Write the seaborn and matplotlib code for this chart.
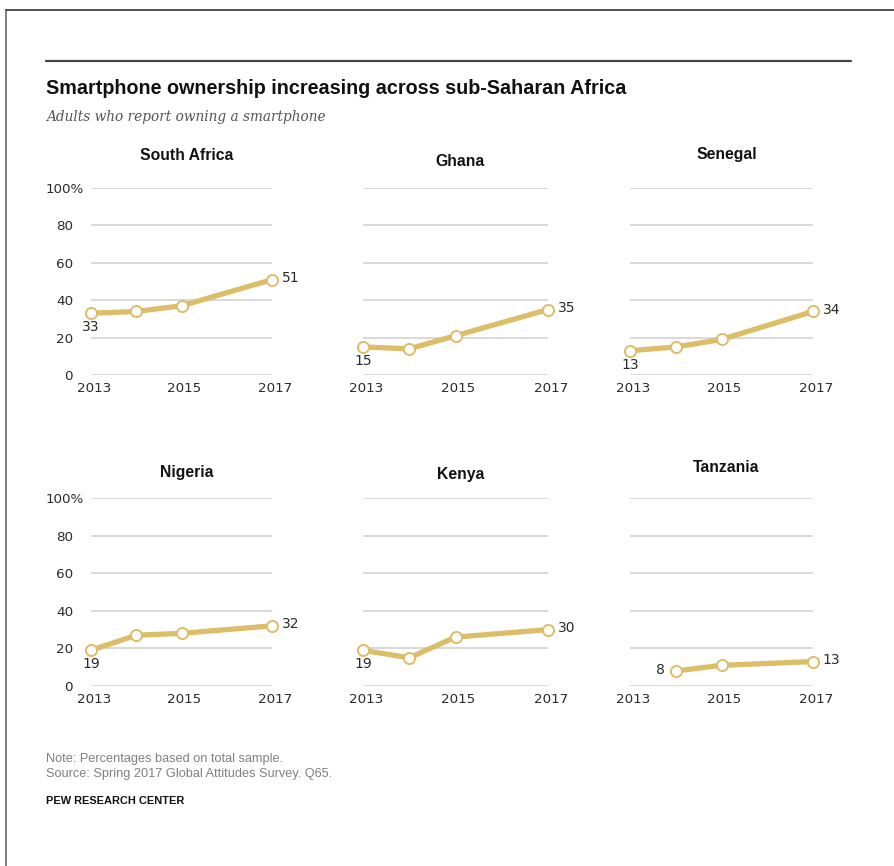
import numpy as np
import pandas as pd
import matplotlib
matplotlib.use("Agg")
import matplotlib.pyplot as plt
import matplotlib.transforms as mtransforms
from matplotlib.lines import Line2D
import seaborn as sns

# ---------------- data ----------------
years = [2013, 2014, 2015, 2017]
countries = ["South Africa", "Ghana", "Senegal", "Nigeria", "Kenya", "Tanzania"]
south_africa = [33, 34, 37, 51]
ghana = [15, 14, 21, 35]
senegal = [13, 15, 19, 34]
nigeria = [19, 27, 28, 32]
kenya = [19, 15, 26, 30]
tanzania = [np.nan, 8, 11, 13]
series = [south_africa, ghana, senegal, nigeria, kenya, tanzania]
y_ticks = [0, 20, 40, 60, 80, 100]
y_tick_labels = ["0", "20", "40", "60", "80", "100%"]
x_ticks = [2013, 2015, 2017]
x_tick_labels = ["2013", "2015", "2017"]

title = "Smartphone ownership increasing across sub-Saharan Africa"
subtitle = "Adults who report owning a smartphone"
note = "Note: Percentages based on total sample."
source = "Source: Spring 2017 Global Attitudes Survey. Q65."
credit = "PEW RESEARCH CENTER"

rows = []
for c, vals in zip(countries, series):
    for yr, v in zip(years, vals):
        rows.append({"country": c, "year": yr, "value": v})
df = pd.DataFrame(rows)

# ---------------- style ----------------
sns.set_theme(style="white")
plt.rcParams["font.family"] = ["DejaVu Sans"]

W, H = 895, 866
fig = plt.figure(figsize=(W / 100, H / 100), dpi=100)
fig.patch.set_facecolor("white")

GOLD = "#dcbd68"
GRID = "#cfcfcf"
TXT = "#2a2a2a"

def fx(px):
    return px / W

def fy(py):
    return 1 - py / H

# axes boxes in pixels: (left, right, top, bottom)
col_x = [(91, 272), (363, 548), (630, 813)]
row_y = [(188, 375), (498, 686)]
title_y = [155, 162, 155, 473, 475, 467]

for i, country in enumerate(countries):
    r, c = divmod(i, 3)
    x0, x1 = col_x[c]
    t, b = row_y[r]
    ax = fig.add_axes([fx(x0), fy(b), fx(x1 - x0), (b - t) / H])
    ax.set_facecolor("none")
    for yv in y_ticks:
        ax.axhline(yv, color=GRID, lw=1.1, zorder=0)
    sub = df[df["country"] == country].dropna()
    sns.lineplot(data=sub, x="year", y="value", ax=ax, color=GOLD, lw=3.8,
                 marker="o", markersize=8, markerfacecolor="white",
                 markeredgecolor=GOLD, markeredgewidth=1.4, clip_on=False,
                 zorder=3)
    ax.set_xlim(2013, 2017)
    ax.set_ylim(0, 100)
    ax.set_xlabel("")
    ax.set_ylabel("")
    for s in ax.spines.values():
        s.set_visible(False)
    ax.set_xticks(x_ticks)
    ax.set_xticklabels(x_tick_labels, fontsize=9.7, color=TXT)
    ax.tick_params(axis="x", length=0, pad=5)
    for lbl in ax.get_xticklabels():
        lbl.set_transform(lbl.get_transform() +
                          mtransforms.ScaledTranslation(0.03, 0, fig.dpi_scale_trans))
    ax.set_yticks(y_ticks)
    if c == 0:
        ax.set_yticklabels(y_tick_labels, fontsize=9.7, color=TXT)
        ax.tick_params(axis="y", length=0, pad=13)
        lbl = ax.get_yticklabels()[-1]
        lbl.set_transform(lbl.get_transform() +
                          mtransforms.ScaledTranslation(0.11, 0, fig.dpi_scale_trans))
    else:
        ax.set_yticklabels([])
        ax.tick_params(axis="y", length=0)
    # title
    fig.text(fx((x0 + x1) / 2 + 5), fy(title_y[i]), country, ha="center",
             va="center", fontsize=11.3, fontweight="bold", color="#111111",
             family="Liberation Sans")
    # labels
    first_year = sub["year"].iloc[0]
    first_val = sub["value"].iloc[0]
    last_year = sub["year"].iloc[-1]
    last_val = sub["value"].iloc[-1]
    if first_year == 2013:
        ax.annotate(f"{first_val:.0f}", (first_year, first_val), xytext=(0, -10),
                    textcoords="offset points", ha="center", va="center",
                    fontsize=10, color=TXT, annotation_clip=False)
    else:
        ax.annotate(f"{first_val:.0f}", (first_year, first_val), xytext=(-8, 1),
                    textcoords="offset points", ha="right", va="center",
                    fontsize=10, color=TXT, annotation_clip=False)
    ax.annotate(f"{last_val:.0f}", (last_year, last_val), xytext=(7, 1),
                textcoords="offset points", ha="left", va="center",
                fontsize=10, color=TXT, annotation_clip=False)

# header
fig.add_artist(Line2D([fx(46), fx(851)], [fy(61), fy(61)], color="#444444", lw=1.6))
fig.text(fx(46), fy(88), title, ha="left", va="center", fontsize=14.2,
         fontweight="bold", color="#111111", family="Liberation Sans")
fig.text(fx(46), fy(117), subtitle, ha="left", va="center", fontsize=9.8,
         style="italic", color="#555555", family="DejaVu Serif")

# footer
fig.text(fx(46), fy(759), note, ha="left", va="center", fontsize=9.2,
         color="#808080", family="Liberation Sans")
fig.text(fx(46), fy(774), source, ha="left", va="center", fontsize=9.2,
         color="#808080", family="Liberation Sans")
fig.text(fx(46), fy(801), credit, ha="left", va="center", fontsize=7.9,
         fontweight="bold", color="#111111", family="Liberation Sans")

# frame lines (left and top)
fig.add_artist(Line2D([fx(6), fx(6)], [fy(10), 0], color="#666666", lw=1.2))
fig.add_artist(Line2D([fx(6), 1], [fy(10), fy(10)], color="#333333", lw=1.2))

fig.savefig("out.png", dpi=100, facecolor="white")
